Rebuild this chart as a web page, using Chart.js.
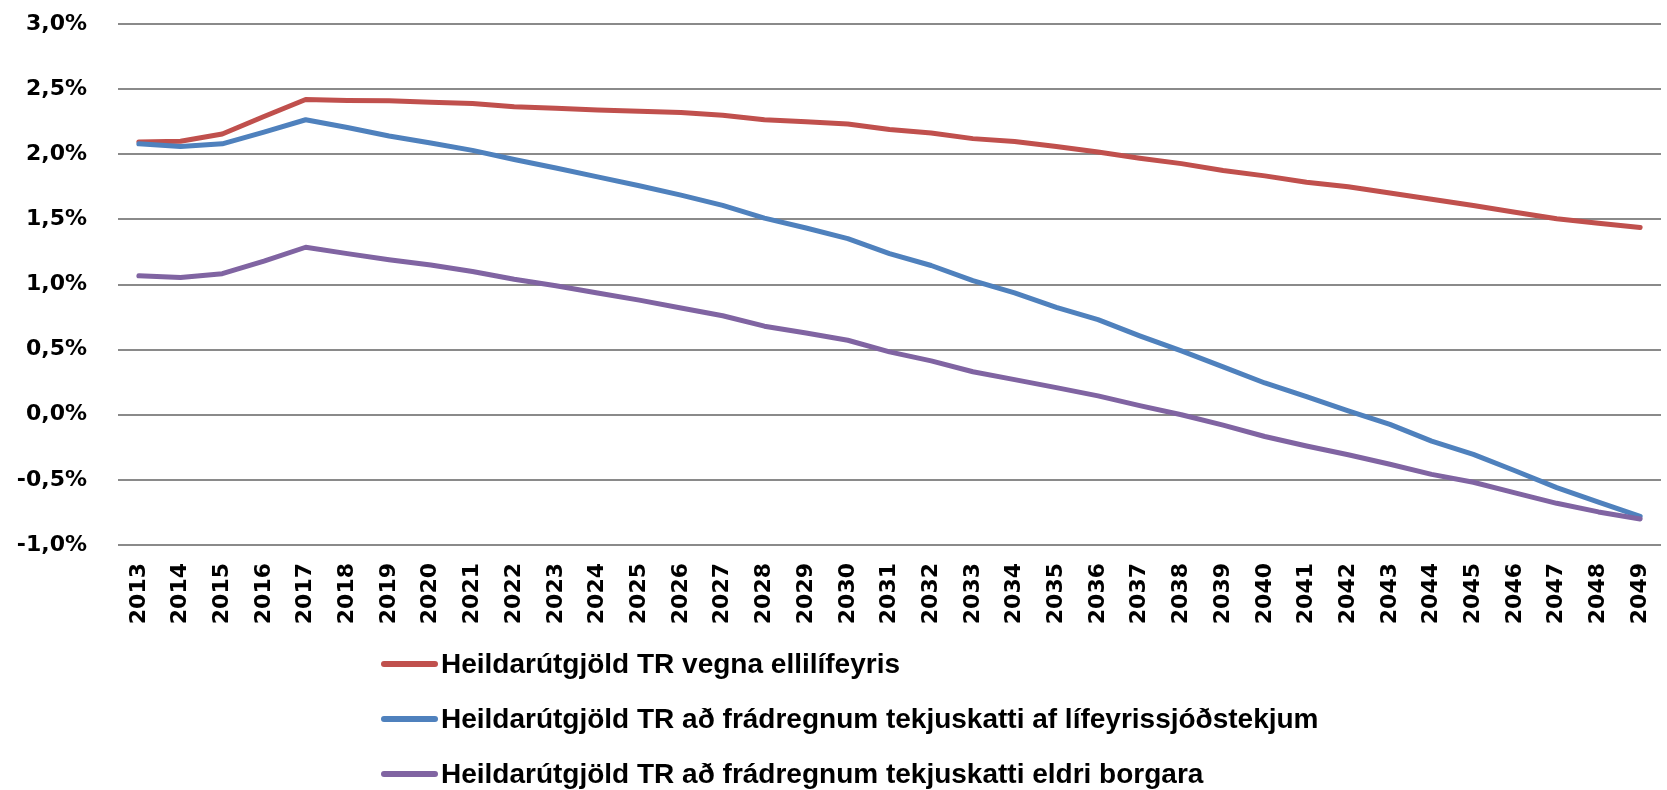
<!DOCTYPE html>
<html>
<head>
<meta charset="utf-8">
<script src="https://cdn.jsdelivr.net/npm/chart.js@4.4.1/dist/chart.umd.min.js"></script>
<style>
  html, body { margin: 0; padding: 0; background: #fff; }
</style>
</head>
<body>
<canvas id="line-chart" width="1667" height="790"></canvas>
<script>
var years = ["2013", "2014", "2015", "2016", "2017", "2018", "2019", "2020", "2021", "2022",
    "2023", "2024", "2025", "2026", "2027", "2028", "2029", "2030", "2031", "2032",
    "2033", "2034", "2035", "2036", "2037", "2038", "2039", "2040", "2041", "2042",
    "2043", "2044", "2045", "2046", "2047", "2048", "2049"];

var heildarutgjold = [2.095, 2.10, 2.155, 2.29, 2.42, 2.413, 2.41, 2.40, 2.39, 2.364,
    2.353, 2.34, 2.33, 2.32, 2.30, 2.265, 2.25, 2.232, 2.19, 2.163,
    2.12, 2.098, 2.06, 2.018, 1.97, 1.928, 1.875, 1.834, 1.785, 1.75,
    1.703, 1.654, 1.607, 1.555, 1.505, 1.47, 1.437];

var eftirLifeyrissjodi = [2.08, 2.06, 2.08, 2.17, 2.265, 2.205, 2.14, 2.087, 2.03, 1.96,
    1.895, 1.826, 1.758, 1.686, 1.607, 1.51, 1.434, 1.352, 1.237, 1.146,
    1.03, 0.935, 0.825, 0.73, 0.606, 0.49, 0.367, 0.244, 0.14, 0.03,
    -0.074, -0.203, -0.304, -0.43, -0.56, -0.67, -0.78];

var eftirEldriBorgurum = [1.067, 1.053, 1.083, 1.18, 1.286, 1.237, 1.19, 1.149, 1.10, 1.04,
    0.99, 0.935, 0.88, 0.82, 0.76, 0.68, 0.628, 0.572, 0.483, 0.414,
    0.33, 0.27, 0.208, 0.145, 0.07, 0.0, -0.08, -0.167, -0.24, -0.307,
    -0.38, -0.458, -0.518, -0.60, -0.68, -0.746, -0.80];

var seriesNames = [
    "Heildarútgjöld TR vegna ellilífeyris",
    "Heildarútgjöld TR að frádregnum tekjuskatti af lífeyrissjóðstekjum",
    "Heildarútgjöld TR að frádregnum tekjuskatti eldri borgara"
];

// legend drawn as a vertical list under the axis, like the original
var listLegend = {
    id: 'listLegend',
    afterDraw: function (chart) {
        var ctx = chart.ctx;
        ctx.save();
        ctx.font = 'bold 28px "Liberation Sans", Arial, sans-serif';
        ctx.textBaseline = 'middle';
        ctx.fillStyle = '#000';
        chart.data.datasets.forEach(function (ds, i) {
            var y = 664 + i * 55;
            ctx.strokeStyle = ds.borderColor;
            ctx.lineWidth = 6;
            ctx.lineCap = 'round';
            ctx.beginPath();
            ctx.moveTo(384, y);
            ctx.lineTo(435, y);
            ctx.stroke();
            ctx.fillText(ds.label, 441, y + 1);
        });
        ctx.restore();
    }
};

new Chart(document.getElementById("line-chart"), {
    type: 'line',
    data: {
        labels: years,
        datasets: [{
            data: heildarutgjold,
            label: seriesNames[0],
            borderColor: "#C0504D",
            order: 3
        }, {
            data: eftirLifeyrissjodi,
            label: seriesNames[1],
            borderColor: "#4F81BD",
            order: 2
        }, {
            data: eftirEldriBorgurum,
            label: seriesNames[2],
            borderColor: "#8064A2",
            order: 1
        }]
    },
    options: {
        responsive: false,
        animation: false,
        devicePixelRatio: 1,
        layout: {
            padding: { top: 24, right: 6, left: 0, bottom: 165 }
        },
        elements: {
            line: { borderWidth: 5, tension: 0, borderCapStyle: 'round', borderJoinStyle: 'round' },
            point: { radius: 0, hoverRadius: 0 }
        },
        plugins: {
            legend: { display: false },
            tooltip: { enabled: false }
        },
        scales: {
            x: {
                offset: true,
                grid: { display: false, drawTicks: false },
                border: { display: false },
                ticks: {
                    autoSkip: false,
                    maxRotation: 90,
                    minRotation: 90,
                    padding: 18,
                    color: '#000',
                    font: { family: '"DejaVu Sans"', size: 22, weight: 'bold' }
                },
                afterFit: function (scale) {
                    scale.height = 80;
                    scale.paddingLeft = 0;
                    scale.paddingRight = 0;
                }
            },
            y: {
                min: -1,
                max: 3,
                grid: { color: '#8a8a8a', lineWidth: 2, drawTicks: false },
                border: { display: false },
                ticks: {
                    stepSize: 0.5,
                    padding: 31,
                    color: '#000',
                    font: { family: '"DejaVu Sans"', size: 22, weight: 'bold' },
                    callback: function (v) {
                        return v.toFixed(1).replace('.', ',') + '%';
                    }
                },
                afterFit: function (scale) {
                    scale.width = 118;
                    scale.paddingTop = 0;
                    scale.paddingBottom = 0;
                }
            }
        }
    },
    plugins: [listLegend]
});
</script>
</body>
</html>
